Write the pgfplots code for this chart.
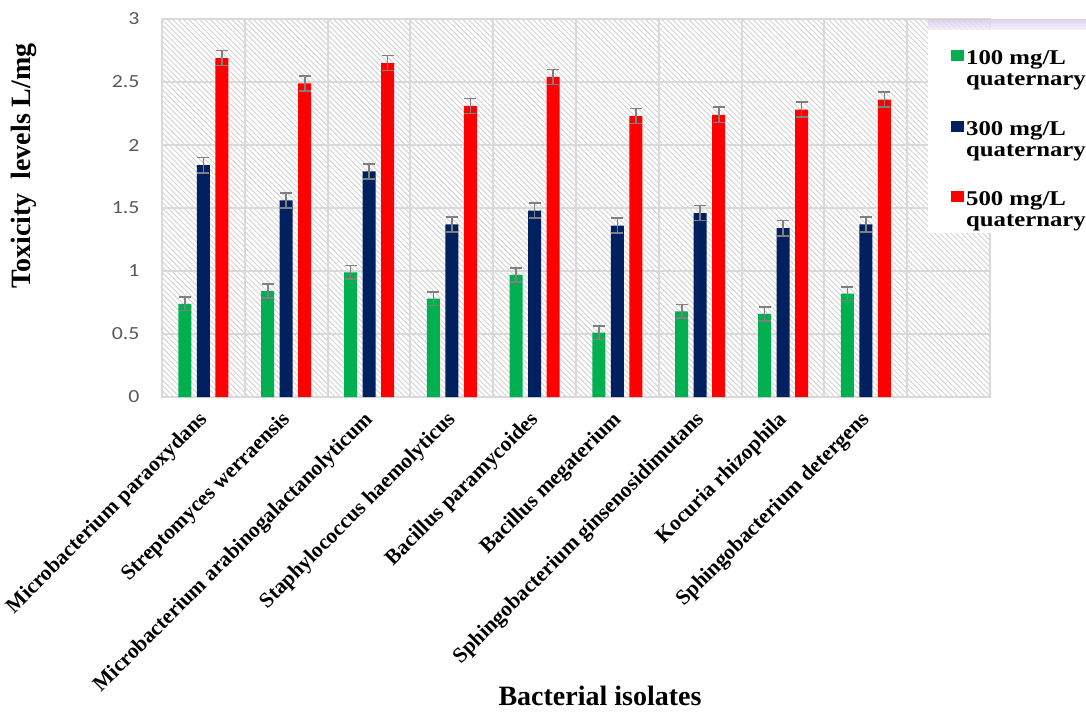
\documentclass[border=0pt]{standalone}
\usepackage{fontspec}
\usepackage{pgfplots}
\usepackage{pgfplotstable}
\pgfplotsset{compat=1.18}
\usetikzlibrary{patterns.meta}
\setmainfont{Liberation Serif}
\newfontfamily\calibri{Carlito}[FakeStretch=1.18]
\newfontfamily\legfont{Liberation Serif}[FakeStretch=1.18]

\definecolor{cgreen}{RGB}{0,176,80}
\definecolor{cnavy}{RGB}{0,32,96}
\definecolor{cred}{RGB}{255,0,0}
\definecolor{gridgray}{RGB}{217,217,217}
\definecolor{hatchgray}{RGB}{212,212,212}
\definecolor{errgray}{RGB}{128,128,128}
\definecolor{tickgray}{RGB}{89,89,89}
\definecolor{lav}{RGB}{196,184,226}

% toxicity (L/mg) for each isolate at three concentrations, with error
\pgfplotstableread{
x  g     ge     b     be    r     re
0  0.74  0.055  1.84  0.06  2.69  0.06
1  0.84  0.055  1.56  0.06  2.49  0.06
2  0.99  0.055  1.79  0.06  2.65  0.06
3  0.78  0.055  1.37  0.06  2.31  0.06
4  0.97  0.055  1.48  0.06  2.54  0.06
5  0.51  0.055  1.36  0.06  2.23  0.06
6  0.68  0.055  1.46  0.06  2.24  0.06
7  0.66  0.055  1.34  0.06  2.28  0.06
8  0.82  0.055  1.37  0.06  2.36  0.06
}\data

\pgfplotsset{
  sqlegend/.style={legend image code/.code={\fill[##1,draw=none] (-2pt,3.5pt) rectangle (11pt,14.5pt);}},
  errstyle/.style={error bars/.cd, y dir=both, y explicit,
    error bar style={draw=errgray, line width=1.6pt},
    error mark options={rotate=90, mark size=6pt, line width=1.6pt, draw=errgray}},
}
% two-line legend text, baseline on the first line; #2 sets the room above it
\newcommand{\legtext}[2]{\begin{tabular}[t]{@{}l@{}}\rule{0pt}{#2}#1 mg/L\\quaternary\end{tabular}}

\begin{document}
\begin{tikzpicture}
\path[use as bounding box] (-162pt,-315pt) rectangle (924pt,397pt);
\begin{axis}[
  at={(0pt,0pt)}, anchor=south west,
  scale only axis, width=828pt, height=378pt,
  ybar=5.5pt, bar width=13pt,
  xmin=-0.5, xmax=9.5, ymin=0, ymax=3,
  xtick={0,...,8},
  xticklabels={Microbacterium paraoxydans, Streptomyces werraensis,
    Microbacterium arabinogalactanolyticum, Staphylococcus haemolyticus,
    Bacillus paramycoides, Bacillus megaterium,
    Sphingobacterium ginsenosidimutans, Kocuria rhizophila,
    Sphingobacterium detergens},
  minor xtick={0.5,1.5,...,8.5},
  ytick={0,0.5,...,3},
  ymajorgrids, xminorgrids,
  major grid style={draw=gridgray, line width=2pt},
  minor grid style={draw=gridgray, line width=2pt},
  axis line style={draw=gridgray, line width=2pt},
  major tick length=0pt, minor tick length=0pt,
  axis background/.style={pattern={Lines[angle=-45,distance=3.8pt,line width=1pt]}, pattern color=hatchgray},
  /pgf/number format/assume math mode=true,
  yticklabel style={font=\calibri\fontsize{18.5}{22}\selectfont, text=tickgray, xshift=-19pt},
  xticklabel style={font=\bfseries\fontsize{21.5}{24}\selectfont, rotate=45, anchor=east, xshift=-10pt, yshift=-14.5pt},
  ylabel={Toxicity\ \ levels L/mg},
  ylabel style={font=\bfseries\fontsize{28}{30}\selectfont, at={(axis description cs:-0.1667,0.611)}, anchor=center},
  xlabel={Bacterial isolates},
  xlabel style={font=\bfseries\fontsize{28}{30}\selectfont, at={(axis description cs:0.529,-0.79)}, anchor=center},
  legend style={at={(axis description cs:0.925,0.971)}, anchor=north west,
    draw=none, fill=white, inner xsep=23pt, inner ysep=2pt,
    font=\legfont\bfseries\fontsize{21}{21}\selectfont,
    cells={anchor=base west}, nodes={inner sep=2pt}},
]
\addplot[fill=cgreen, draw=none, sqlegend, errstyle] table[x=x, y=g, y error=ge] {\data};
\addlegendentry{\legtext{100}{30.5pt}}
\addplot[fill=cnavy, draw=none, sqlegend, errstyle] table[x=x, y=b, y error=be] {\data};
\addlegendentry{\legtext{300}{65pt}}
\addplot[fill=cred, draw=none, sqlegend, errstyle] table[x=x, y=r, y error=re] {\data};
\addlegendentry{\legtext{500}{65pt}}
% blank row that gives the legend box its bottom margin
\addlegendimage{empty legend}
\addlegendentry{\rule{0pt}{16pt}}
\end{axis}
% soft band along the top of the legend box
\shade[top color=lav!70, bottom color=lav!20, opacity=0.8] (766pt,367pt) rectangle (924pt,377pt);
\end{tikzpicture}
\end{document}
